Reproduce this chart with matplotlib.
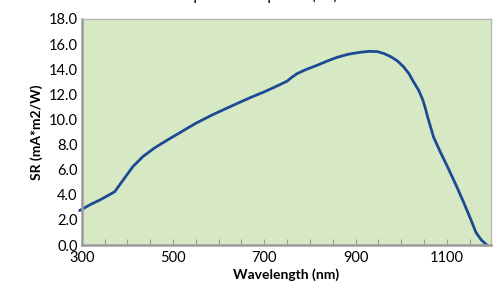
import matplotlib.pyplot as plt
import numpy as np

plt.rcParams['font.family'] = ['Lato', 'DejaVu Sans']

# spectral response
wavelength = [295, 320, 340, 360, 372, 383, 394, 412, 434, 460, 487, 515,
              550, 588, 630, 670, 700, 730, 750, 760, 772, 790, 815, 838,
              860, 885, 911, 930, 948, 962, 977, 992, 1005, 1017, 1027, 1038,
              1047, 1053, 1058, 1071, 1086, 1102, 1120, 1137, 1152, 1164,
              1176, 1188]
sr = [2.75, 3.25, 3.6, 4.0, 4.25, 4.8, 5.35, 6.25, 7.05, 7.75, 8.35, 8.95,
      9.7, 10.4, 11.1, 11.75, 12.2, 12.7, 13.05, 13.35, 13.65, 13.95, 14.3,
      14.65, 14.95, 15.2, 15.35, 15.42, 15.4, 15.25, 15.0, 14.65, 14.2,
      13.65, 13.0, 12.35, 11.6, 10.9, 10.2, 8.6, 7.4, 6.2, 4.8, 3.4, 2.1,
      1.0, 0.4, 0.0]

xticks = [300, 500, 700, 900, 1100]
yticks = np.arange(0, 18.1, 2.0)

fig = plt.figure(figsize=(4.93, 2.87), dpi=100)
ax = fig.add_axes([0.166, 0.146, 0.83, 0.788])
ax.set_facecolor('#d7e8c4')

ax.plot(wavelength, sr, color='#1d4a94', lw=2.0, solid_capstyle='round',
        solid_joinstyle='round', clip_on=False)

ax.set_xlim(300, 1197)
ax.set_ylim(0, 18)
ax.set_xticks(xticks)
ax.set_xticks(np.arange(350, 1200, 50), minor=True)
ax.set_yticks(yticks)
ax.set_yticklabels(['%.1f' % v for v in yticks])

for s in ['top', 'right']:
    ax.spines[s].set_color('#b8b8b8')
    ax.spines[s].set_linewidth(1.0)
for s in ['left', 'bottom']:
    ax.spines[s].set_color('#9a9a9a')
    ax.spines[s].set_linewidth(1.8)

ax.tick_params(axis='x', which='both', direction='in', length=4, width=0.8,
               color='#9a9a9a', labelsize=10.5, pad=4)
ax.tick_params(axis='y', length=0, labelsize=10.5, pad=3)

ax.set_xlabel('Wavelength (nm)', fontsize=10, fontweight='bold', labelpad=3)
ax.set_ylabel('SR (mA*m2/W)', fontsize=10, fontweight='bold', labelpad=4)

# title sits mostly above the top edge in the reference
fig.text(0.53, 1.0, 'Spectral Response (SR)', ha='center', va='baseline',
         fontsize=11)

fig.savefig('out.png', dpi=100)
